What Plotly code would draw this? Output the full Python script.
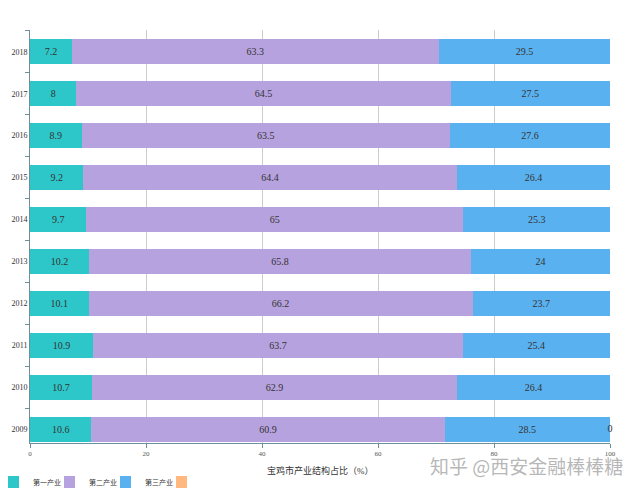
import plotly.graph_objects as go

years = ["2009", "2010", "2011", "2012", "2013", "2014", "2015", "2016", "2017", "2018"]
primary = [10.6, 10.7, 10.9, 10.1, 10.2, 9.7, 9.2, 8.9, 8, 7.2]
secondary = [60.9, 62.9, 63.7, 66.2, 65.8, 65, 64.4, 63.5, 64.5, 63.3]
tertiary = [28.5, 26.4, 25.4, 23.7, 24, 25.3, 26.4, 27.6, 27.5, 29.5]
fourth = [0, None, None, None, None, None, None, None, None, None]
series_names = ["第一产业", "第二产业", "第三产业", " "]
colors = ["#2ec7c9", "#b6a2de", "#5ab1ef", "#ffb980"]
x_ticks = [0, 20, 40, 60, 80, 100]
axis_title = "宝鸡市产业结构占比（%）"
watermark = "知乎 @西安金融棒棒糖"

serif = "Liberation Serif, Noto Sans CJK SC, serif"
W, H = 632, 484   # page body has an 8px offset
legend_ids = ["legend", "legend2", "legend3", "legend4"]
legend_px = [0, 56, 112, 168]  # px in container

fig = go.Figure()
all_vals = [primary, secondary, tertiary, fourth]
for k, (name, vals, col) in enumerate(zip(series_names, all_vals, colors)):
    kw = {}
    if k < 3:
        kw = dict(text=[str(v) for v in vals], textposition="inside", insidetextanchor="middle",
                  textangle=0, textfont=dict(family=serif, size=10, color="#333"))
    fig.add_trace(go.Bar(
        y=years, x=vals, name=name, orientation="h", legend=legend_ids[k],
        marker=dict(color=col, line=dict(width=0)), hoverinfo="x+name", **kw
    ))
# label of the zero-valued fourth series, at the end of the stack
stack_end = [p + s + t for p, s, t in zip(primary, secondary, tertiary)]
fx, fy, ft = [], [], []
for i, v in enumerate(fourth):
    if v is not None:
        fx.append(stack_end[i] + v)
        fy.append(years[i])
        ft.append(str(v))
fig.add_trace(go.Scatter(
    x=fx, y=fy, text=ft, mode="text", showlegend=False, cliponaxis=False,
    textfont=dict(family=serif, size=10, color="#333"), textposition="middle center",
))

legend_layout = {}
for lid, lx in zip(legend_ids, legend_px):
    legend_layout[lid] = dict(orientation="h", x=lx / W, y=10 / H, xref="container",
                              yref="container", xanchor="left", yanchor="middle",
                              bgcolor="rgba(0,0,0,0)", indentation=-15,
                              font=dict(family=serif, size=7, color="#333"))

plot_top, plot_bottom = 30, 443
def py(pix):
    return (plot_bottom - pix) / (plot_bottom - plot_top)

fig.update_layout(
    barmode="stack", bargap=0.4,
    width=W, height=H,
    margin=dict(l=22, r=30, t=22, b=49, autoexpand=False),
    paper_bgcolor="white", plot_bgcolor="white",
    font=dict(family=serif, color="#333"),
    showlegend=True,
    xaxis=dict(range=[0, 100], tickvals=x_ticks, showgrid=True, gridcolor="#cccccc",
               gridwidth=1, zeroline=False, showline=True, linecolor="#6e8f99",
               ticks="outside", ticklen=4, tickcolor="#6e8f99", automargin=False,
               tickfont=dict(family=serif, size=7, color="#555")),
    yaxis=dict(type="category", range=[-0.33, 9.52], showgrid=False, showline=True,
               linecolor="#6e8f99", ticks="outside", tickson="boundaries", ticklen=4,
               tickcolor="#6e8f99", automargin=False,
               tickfont=dict(family=serif, size=8, color="#333")),
    annotations=[
        dict(text=axis_title, xref="paper", yref="paper", x=0.5, y=py(470),
             xanchor="center", yanchor="middle", showarrow=False,
             font=dict(family=serif, size=9, color="#333")),
        dict(text=watermark, xref="paper", yref="paper", x=1.026, y=py(466),
             xanchor="right", yanchor="middle", showarrow=False,
             font=dict(family="Noto Sans CJK SC", size=19, color="rgba(170,170,170,0.85)")),
    ],
    **legend_layout,
)

fig.write_html("out.html")
